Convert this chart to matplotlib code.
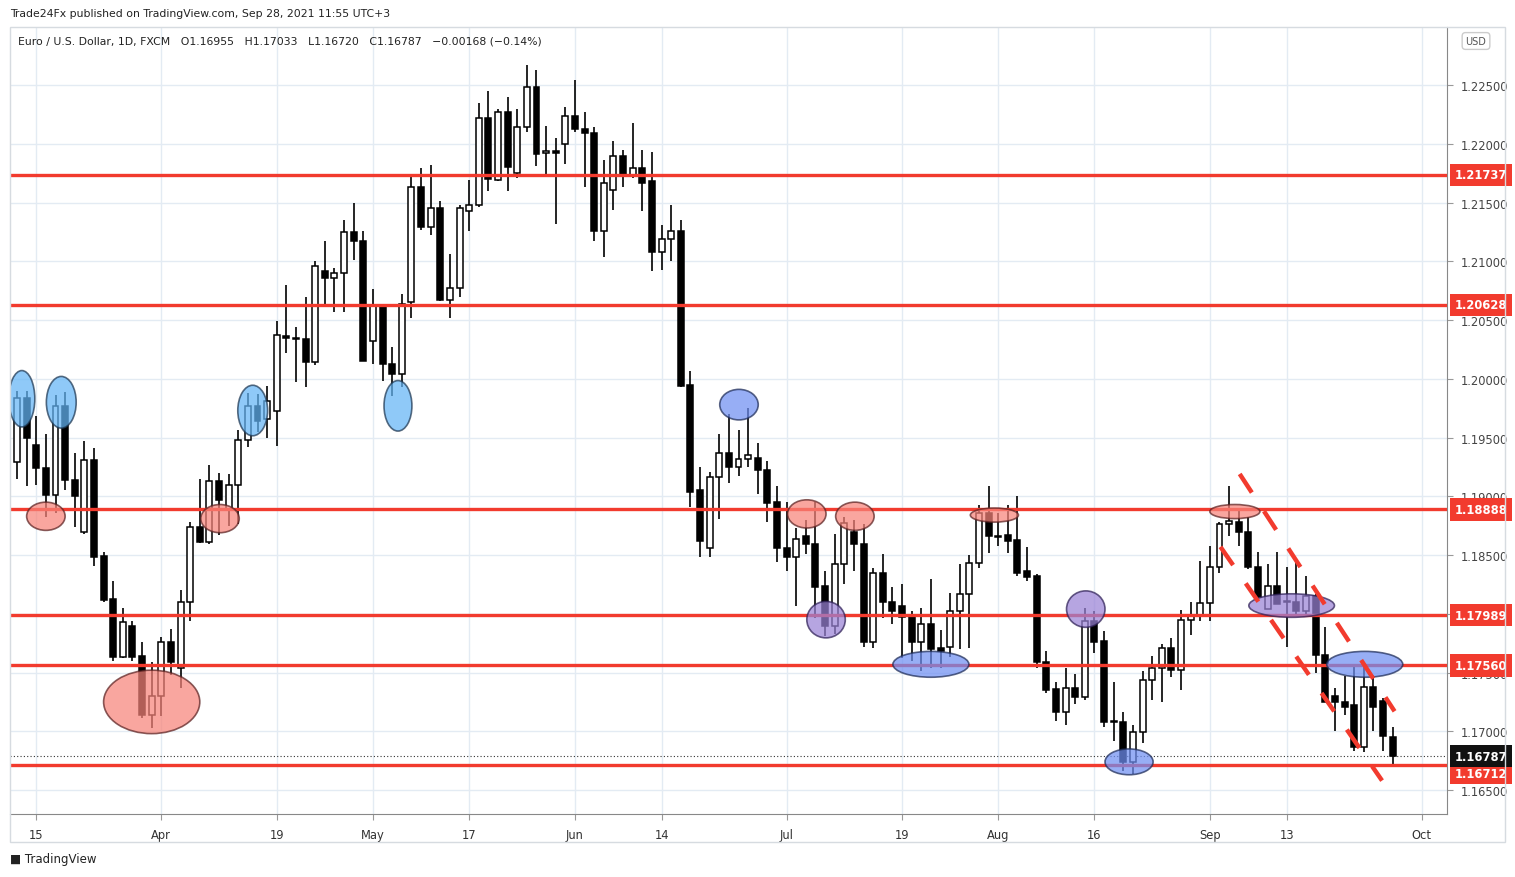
import numpy as np
import pandas as pd
import matplotlib
matplotlib.use("Agg")
import matplotlib.pyplot as plt
from matplotlib.patches import Ellipse, Rectangle
from matplotlib.transforms import blended_transform_factory, offset_copy

# ---------------- data ----------------
dates = pd.bdate_range("2021-03-11", periods=144)
opens = [1.1929,1.1984,1.1944,1.1924,1.1901,1.1977,1.1914,1.1870,1.1931,1.1849,1.1813,1.1763,1.1790,1.1764,1.1714,1.1730,1.1776,1.1754,1.1810,1.1874,1.1861,1.1913,1.1889,1.1910,1.1948,1.1977,
         1.1966,1.1973,1.2036,1.2035,1.2034,1.2014,1.2092,1.2086,1.2090,1.2125,1.2117,1.2032,1.2062,1.2013,1.2004,1.2065,1.2163,1.2129,1.2145,1.2067,1.2077,1.2143,1.2148,1.2222,
         1.2169,1.2227,1.2175,1.2214,1.2248,1.2192,1.2194,1.2200,1.2224,1.2213,1.2209,1.2126,1.2161,1.2190,1.2173,1.2179,1.2168,1.2108,1.2119,1.2126,
         1.1995,1.1905,1.1856,1.1916,1.1937,1.1925,1.1932,1.1933,1.1922,1.1895,1.1856,1.1848,1.1866,1.1859,1.1824,1.1790,1.1842,1.1870,1.1859,1.1776,1.1835,1.1810,1.1807,1.1797,
         1.1776,1.1791,1.1771,1.1772,1.1802,1.1817,1.1843,1.1886,1.1866,1.1867,1.1863,1.1836,1.1832,1.1759,1.1736,1.1716,1.1737,1.1729,1.1794,1.1777,1.1708,1.1708,1.1674,1.1699,1.1744,1.1754,1.1771,1.1752,1.1795,
         1.1798,1.1809,1.1840,1.1876,1.1878,1.1870,1.1840,1.1804,1.1824,1.1811,1.1810,1.1802,1.1815,1.1765,1.1730,1.1725,1.1722,1.1687,1.1738,1.1726,1.16955]
highs = [1.1990,1.1990,1.1968,1.1953,1.1986,1.1989,1.1937,1.1947,1.1941,1.1853,1.1828,1.1805,1.1794,1.1776,1.1759,1.1780,1.1787,1.1820,1.1878,1.1915,1.1927,1.1920,1.1919,1.1956,1.1988,1.1987,
         1.1994,1.2049,1.2080,1.2044,1.2070,1.2100,1.2117,1.2094,1.2135,1.2150,1.2126,1.2076,1.2064,1.2027,1.2072,1.2172,1.2179,1.2182,1.2151,1.2106,1.2148,1.2169,1.2235,1.2245,
         1.2230,1.2240,1.2230,1.2267,1.2263,1.2215,1.2205,1.2231,1.2254,1.2227,1.2214,1.2186,1.2202,1.2195,1.2218,1.2195,1.2193,1.2131,1.2148,1.2135,
         1.2007,1.1925,1.1921,1.1953,1.1970,1.1956,1.1975,1.1945,1.1930,1.1909,1.1895,1.1873,1.1880,1.1895,1.1836,1.1868,1.1882,1.1880,1.1876,1.1839,1.1851,1.1823,1.1825,1.1802,
         1.1805,1.1830,1.1786,1.1818,1.1842,1.1850,1.1893,1.1909,1.1886,1.1893,1.1900,1.1857,1.1834,1.1768,1.1742,1.1754,1.1749,1.1805,1.1802,1.1785,1.1742,1.1716,1.1705,1.1751,1.1764,1.1774,1.1779,1.1803,1.1810,
         1.1845,1.1858,1.1878,1.1909,1.1888,1.1882,1.1853,1.1842,1.1853,1.1840,1.1843,1.1832,1.1817,1.1789,1.1737,1.1747,1.1756,1.1755,1.1748,1.1728,1.17033]
lows = [1.1915,1.1909,1.1910,1.1882,1.1886,1.1905,1.1874,1.1868,1.1841,1.1810,1.1760,1.1762,1.1760,1.1711,1.1703,1.1713,1.1748,1.1737,1.1794,1.1860,1.1859,1.1867,1.1875,1.1876,1.1942,1.1955,
        1.1950,1.1943,1.2022,1.1997,1.1993,1.2012,1.2061,1.2057,1.2057,1.2101,1.2015,1.2013,1.1998,1.1985,1.1993,1.2052,1.2127,1.2122,1.2066,1.2052,1.2070,1.2126,1.2146,1.2160,
        1.2168,1.2160,1.2171,1.2210,1.2181,1.2174,1.2132,1.2183,1.2210,1.2163,1.2117,1.2104,1.2144,1.2163,1.2171,1.2143,1.2092,1.2093,1.2100,1.1993,
        1.1891,1.1848,1.1848,1.1881,1.1911,1.1917,1.1925,1.1902,1.1878,1.1844,1.1836,1.1807,1.1851,1.1796,1.1781,1.1783,1.1825,1.1836,1.1772,1.1771,1.1796,1.1791,1.1762,1.1760,
        1.1751,1.1754,1.1754,1.1763,1.1770,1.1771,1.1839,1.1852,1.1858,1.1852,1.1832,1.1828,1.1754,1.1733,1.1709,1.1705,1.1723,1.1727,1.1767,1.1704,1.1692,1.1666,1.1664,1.1690,1.1727,1.1725,1.1746,1.1735,1.1782,
        1.1794,1.1794,1.1835,1.1866,1.1858,1.1838,1.1812,1.1804,1.1808,1.1772,1.1800,1.1800,1.1750,1.1725,1.1700,1.1714,1.1683,1.1682,1.1700,1.1683,1.16720]
closes = [1.1984,1.1950,1.1924,1.1901,1.1977,1.1914,1.1900,1.1931,1.1848,1.1812,1.1763,1.1793,1.1763,1.1714,1.1730,1.1776,1.1759,1.1810,1.1874,1.1861,1.1913,1.1897,1.1910,1.1948,1.1977,1.1964,
          1.1981,1.2037,1.2035,1.2034,1.2014,1.2096,1.2086,1.2090,1.2125,1.2117,1.2015,1.2062,1.2013,1.2004,1.2064,1.2163,1.2129,1.2145,1.2067,1.2077,1.2145,1.2148,1.2222,1.2170,
          1.2227,1.2180,1.2214,1.2248,1.2191,1.2194,1.2192,1.2224,1.2213,1.2209,1.2126,1.2167,1.2190,1.2173,1.2179,1.2167,1.2108,1.2119,1.2126,1.1994,
          1.1904,1.1862,1.1916,1.1937,1.1925,1.1932,1.1935,1.1922,1.1894,1.1856,1.1848,1.1864,1.1859,1.1823,1.1790,1.1842,1.1877,1.1859,1.1776,1.1835,1.1810,1.1802,1.1797,1.1776,
          1.1791,1.1770,1.1768,1.1802,1.1817,1.1843,1.1886,1.1866,1.1865,1.1862,1.1835,1.1831,1.1759,1.1735,1.1716,1.1737,1.1729,1.1794,1.1776,1.1708,1.1708,1.1674,1.1699,1.1744,1.1754,1.1771,1.1752,1.1795,1.1798,
          1.1809,1.1840,1.1876,1.1879,1.1870,1.1840,1.1814,1.1824,1.1808,1.1810,1.1802,1.1815,1.1765,1.1725,1.1725,1.1721,1.1687,1.1738,1.1721,1.1696,1.16787]

levels = [1.21737, 1.20628, 1.18888, 1.17989, 1.17560, 1.16712]
last_price = 1.16787
tick_dates = ["2021-03-15","2021-04-01","2021-04-19","2021-05-03","2021-05-17","2021-06-01",
              "2021-06-14","2021-07-01","2021-07-19","2021-08-02","2021-08-16","2021-09-01",
              "2021-09-13","2021-10-01"]
tick_labels = ["15","Apr","19","May","17","Jun","14","Jul","19","Aug","16","Sep","13","Oct"]
price_ticks = [1.165, 1.170, 1.175, 1.180, 1.185, 1.190, 1.195, 1.200, 1.205, 1.210, 1.215, 1.220, 1.225]

# annotations: (bar index, price, width in bars, height in price)
blue_light = [(0.5,1.1983,2.7,0.0048),(4.6,1.1980,3.1,0.0044),(24.5,1.1973,3.1,0.0043),(39.6,1.1977,2.9,0.0043)]
blue = [(75.05,1.1978,4.0,0.0026),(95.0,1.1757,7.9,0.0022),(115.6,1.1674,5.0,0.0022),(140.1,1.1757,7.9,0.0022)]
red = [(3.0,1.1883,4.0,0.0024),(14.0,1.1725,10.0,0.0054),(21.1,1.1881,4.0,0.0024),(82.1,1.1885,4.0,0.0024),
       (87.1,1.1883,4.0,0.0024),(101.6,1.1884,5.0,0.0012),(126.6,1.1887,5.2,0.0012)]
purple = [(84.1,1.1795,4.0,0.0031),(111.1,1.1804,4.0,0.0031),(132.5,1.1807,8.9,0.0020)]
dash_lines = [((127.1,143.2),(1.1919,1.1717)), ((125.1,141.9),(1.1857,1.1658))]

# ---------------- figure ----------------
W, H = 1515, 878
fig = plt.figure(figsize=(W/100, H/100), dpi=100)
fig.patch.set_facecolor("white")
ax = fig.add_axes([10/W, (H-815)/H, (1447-10)/W, (815-28)/H])

x = np.arange(len(dates))
O, Hh, L, C = map(np.array, (opens, highs, lows, closes))
up = C >= O
ax.vlines(x, L, Hh, color="black", lw=1.2, zorder=3)
bw = 0.62
bot = np.minimum(O, C)
ht = np.maximum(np.abs(C - O), 0.00006)
ax.bar(x[up], ht[up], bottom=bot[up], width=bw, color="white", edgecolor="black", lw=1.1, zorder=4)
ax.bar(x[~up], ht[~up], bottom=bot[~up], width=bw, color="black", edgecolor="black", lw=1.1, zorder=4)

for lv in levels:
    ax.axhline(lv, color="#f23b2e", lw=2.4, zorder=5)
ax.axhline(last_price, color="#333333", lw=0.8, ls=(0, (1, 2)), zorder=2)

def ell(lst, fc, ec):
    for (cx, cy, w, h) in lst:
        ax.add_patch(Ellipse((cx, cy), w, h, facecolor=fc, edgecolor=ec, lw=1.2, alpha=0.72, zorder=6))
ell(blue_light, "#64b5f6", "#1c3550")
ell(blue, "#6f8ff2", "#1c2a55")
ell(red, "#f7847a", "#5a2020")
ell(purple, "#9a82d6", "#2d1f55")

for (xs, ys) in dash_lines:
    ax.plot(xs, ys, color="#f23b2e", lw=3.2, ls=(0, (5, 5)), zorder=7, solid_capstyle="butt")

tick_pos = [dates.get_indexer([pd.Timestamp(d)], method="nearest")[0] if pd.Timestamp(d) <= dates[-1]
            else len(dates) - 1 + len(pd.bdate_range(dates[-1], d)) - 1 for d in tick_dates]
ax.set_xticks(tick_pos)
ax.set_xticklabels(tick_labels)
ax.set_yticks(price_ticks)
ax.set_yticklabels([f"{p:.5f}" for p in price_ticks])
ax.set_xlim(-0.73, 148.65)
ax.set_ylim(1.16296, 1.22994)
ax.grid(True, color="#e3ebf3", lw=1)
ax.set_axisbelow(True)
ax.yaxis.tick_right()
ax.tick_params(axis="y", length=4, color="#999999", labelsize=8.3, labelcolor="#444444", pad=6)
ax.tick_params(axis="x", length=4, color="#999999", labelsize=8.3, labelcolor="#333333", pad=6)
for s in ("top", "left"):
    ax.spines[s].set_visible(False)
for s in ("right", "bottom"):
    ax.spines[s].set_color("#888888")

tr = blended_transform_factory(ax.transAxes, ax.transData)
box_kw = dict(ha="left", va="center", fontsize=8.3, fontweight="bold", color="white", clip_on=False)
for lv in levels:
    t = tr if lv != min(levels) else offset_copy(tr, fig=fig, y=-8, units="dots")
    ax.text(1.0055, lv, f"{lv:.5f}", transform=t, zorder=10,
            bbox=dict(boxstyle="square,pad=0.4", fc="#f23b2e", ec="none"), **box_kw)
ax.text(1.0055, last_price, f"{last_price:.5f}", transform=tr, zorder=11,
        bbox=dict(boxstyle="square,pad=0.4", fc="#111111", ec="none"), **box_kw)

# frame
fig.patches.append(Rectangle((10/W, (H-843)/H), (1505-10)/W, (843-28)/H, transform=fig.transFigure,
                             fill=False, ec="#d6dbe0", lw=1))
fig.text(10/W, 1-14/H, "Trade24Fx published on TradingView.com, Sep 28, 2021 11:55 UTC+3",
         fontsize=7.8, color="#222222", va="center")
fig.text(18/W, 1-42/H, "Euro / U.S. Dollar, 1D, FXCM   O1.16955   H1.17033   L1.16720   C1.16787   \u22120.00168 (\u22120.14%)",
         fontsize=7.8, color="#222222", va="center")
fig.text(1476/W, 1-42/H, "USD", fontsize=7, color="#555555", ha="center", va="center",
         bbox=dict(boxstyle="round,pad=0.35", fc="white", ec="#cccccc"))
fig.text(10/W, 1-860/H, "\u25a0 TradingView", fontsize=8.5, color="#222222", va="center")

fig.savefig("out.png", dpi=100)
